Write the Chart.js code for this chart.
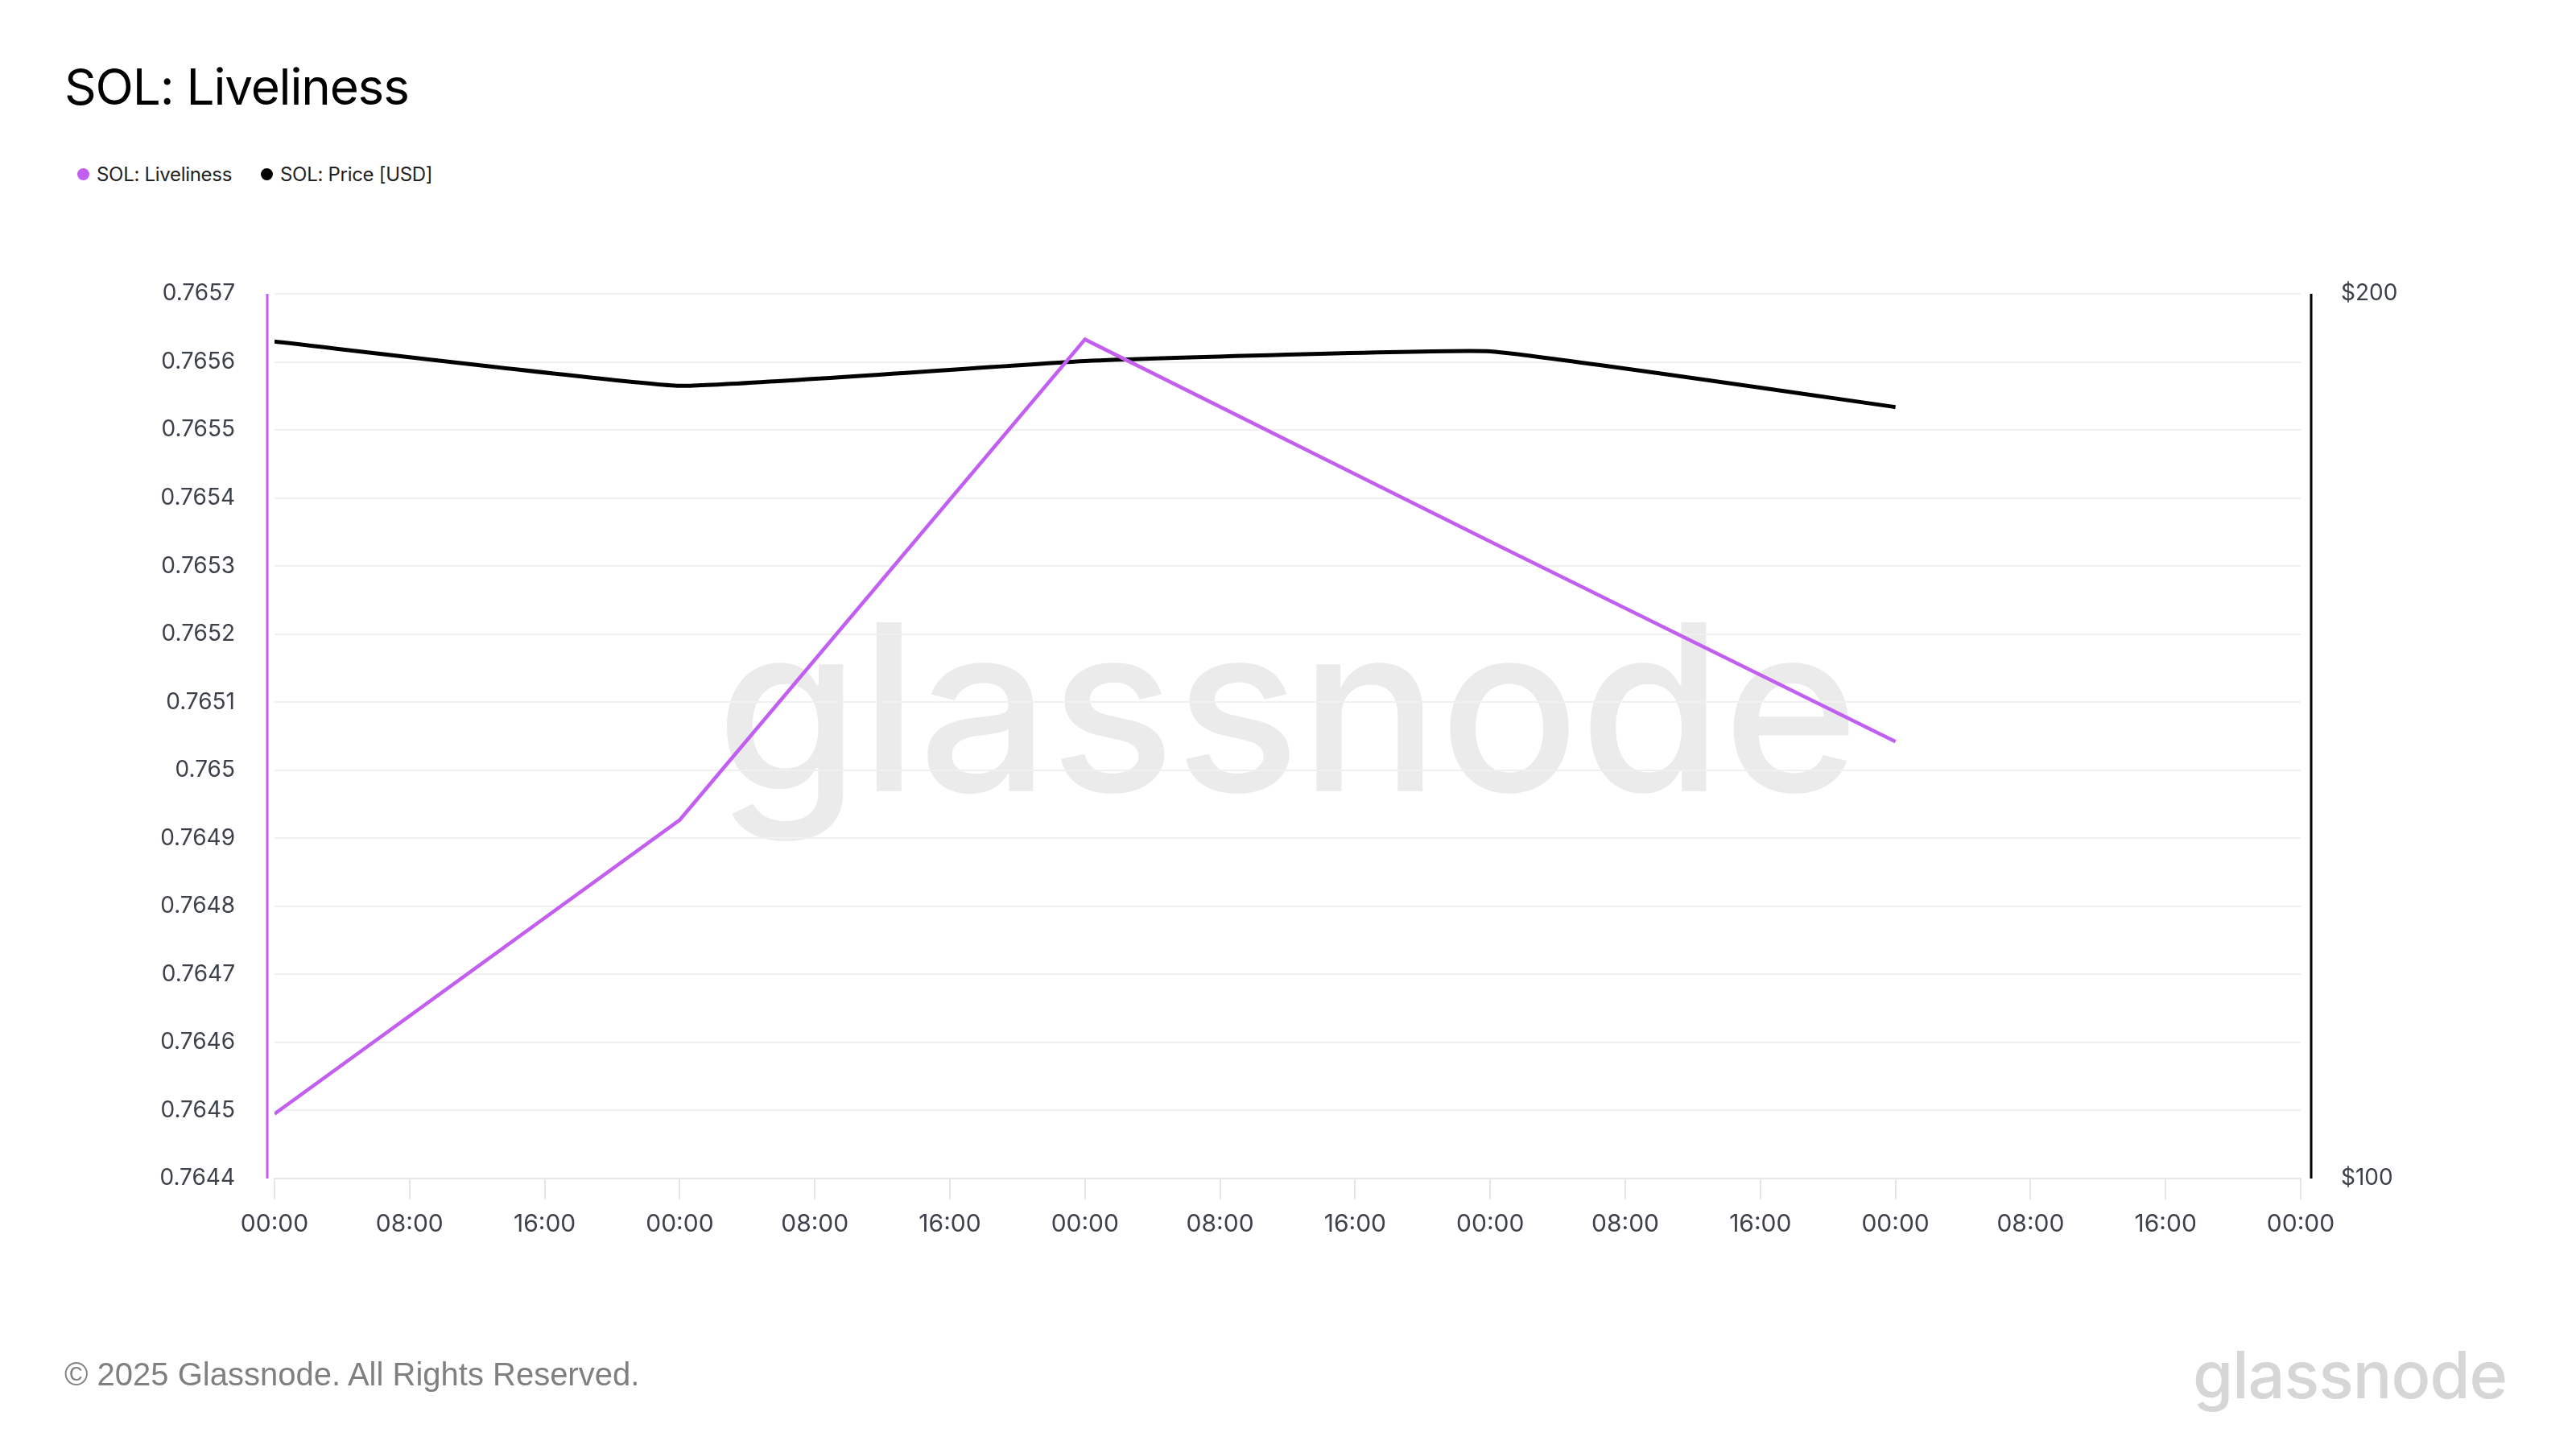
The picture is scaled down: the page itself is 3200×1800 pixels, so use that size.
<!DOCTYPE html>
<html>
<head>
<meta charset="utf-8">
<script src="https://cdn.jsdelivr.net/npm/chart.js@4"></script>
<style>
  html, body { margin: 0; padding: 0; background: #fff; }
  #page { position: relative; width: 3200px; height: 1800px; overflow: hidden; font-family: Inter, sans-serif; }
  #chart { position: absolute; left: 0; top: 0; }
  .title { position: absolute; left: 80px; top: 72px; font-size: 62px; line-height: 72px; color: #000; letter-spacing: -1.2px; }
  .legend { position: absolute; left: 96px; top: 202px; height: 28px; display: flex; align-items: center; font-size: 24px; color: #222; letter-spacing: -0.3px; }
  .legend .item { display: flex; align-items: center; margin-right: 36px; }
  .legend .dot { width: 15px; height: 15px; border-radius: 50%; margin-right: 9px; }
  .footer { position: absolute; left: 80px; top: 1683px; font-family: "Liberation Sans", Arial, sans-serif; font-size: 40px; line-height: 48px; color: #808080; }
  .logo { position: absolute; left: 2724px; top: 1668px; font-size: 81px; line-height: 81px; font-weight: 500; color: #d6d6d6; letter-spacing: -1px; }
</style>
</head>
<body>
<div id="page">
  <div class="title">SOL: Liveliness</div>
  <div class="legend">
    <div class="item"><span class="dot" style="background:#c25ff0"></span>SOL: Liveliness</div>
    <div class="item"><span class="dot" style="background:#000"></span>SOL: Price [USD]</div>
  </div>
  <canvas id="chart" width="3200" height="1800"></canvas>
  <div class="footer">© 2025 Glassnode. All Rights Reserved.</div>
  <div class="logo">glassnode</div>
</div>
<script>
// hours since first day 00:00
const hours = [0, 24, 48, 72, 96];
const liveliness = [0.764495, 0.764927, 0.765633, 0.765336, 0.765042];
const priceUsd = [194.6, 189.6, 192.4, 193.5, 187.2];

const purple = '#c25ff0';
const tickColor = '#3c4049';

Chart.defaults.font.family = 'Inter, sans-serif';

const watermark = {
    id: 'watermark',
    beforeDraw(chart) {
        const { ctx, chartArea } = chart;
        ctx.save();
        let size = 300;
        ctx.font = `500 ${size}px Inter, sans-serif`;
        const w = ctx.measureText('glassnode').width;
        size = size * 1420 / w;
        ctx.font = `500 ${size}px Inter, sans-serif`;
        ctx.fillStyle = '#ebebeb';
        ctx.textAlign = 'center';
        ctx.textBaseline = 'alphabetic';
        const cx = (chartArea.left + chartArea.right) / 2;
        const by = chartArea.top + (chartArea.bottom - chartArea.top) * 0.562;
        ctx.fillText('glassnode', cx, by);
        ctx.restore();
    }
};

const axisLines = {
    id: 'axisLines',
    afterDatasetsDraw(chart) {
        const { ctx, chartArea } = chart;
        ctx.save();
        ctx.lineWidth = 3;
        ctx.strokeStyle = purple;
        ctx.beginPath();
        ctx.moveTo(chartArea.left - 9, chartArea.top);
        ctx.lineTo(chartArea.left - 9, chartArea.bottom);
        ctx.stroke();
        ctx.strokeStyle = '#000';
        ctx.beginPath();
        ctx.moveTo(chartArea.right + 13, chartArea.top);
        ctx.lineTo(chartArea.right + 13, chartArea.bottom);
        ctx.stroke();
        ctx.restore();
    }
};

function hourLabel(v) {
    const h = ((v % 24) + 24) % 24;
    return String(h).padStart(2, '0') + ':00';
}

new Chart(document.getElementById('chart'), {
    type: 'line',
    data: {
        datasets: [{
            label: 'SOL: Liveliness',
            data: hours.map((h, i) => ({ x: h, y: liveliness[i] })),
            borderColor: purple,
            borderWidth: 4.5,
            pointRadius: 0,
            tension: 0,
            yAxisID: 'y'
        }, {
            label: 'SOL: Price [USD]',
            data: hours.map((h, i) => ({ x: h, y: priceUsd[i] })),
            borderColor: '#000',
            borderWidth: 5,
            pointRadius: 0,
            tension: 0.1,
            yAxisID: 'y1'
        }]
    },
    options: {
        responsive: false,
        animation: false,
        devicePixelRatio: 1,
        layout: { padding: { top: 365, bottom: 236, left: 0, right: 0 } },
        plugins: { legend: { display: false }, tooltip: { enabled: false } },
        scales: {
            x: {
                type: 'linear',
                min: 0,
                max: 120,
                afterFit: s => { s.height = 100; },
                afterBuildTicks: s => {
                    const t = [];
                    for (let v = 0; v <= 120; v += 8) t.push({ value: v });
                    s.ticks = t;
                },
                ticks: {
                    callback: hourLabel,
                    color: tickColor,
                    font: { size: 30 },
                    padding: 13,
                    maxRotation: 0,
                    autoSkip: false
                },
                grid: {
                    drawOnChartArea: false,
                    drawTicks: true,
                    tickLength: 26,
                    color: '#e6e6e6',
                    lineWidth: 2
                },
                border: { display: true, color: '#e6e6e6', width: 2 }
            },
            y: {
                position: 'left',
                min: 0.7644,
                max: 0.7657,
                afterFit: s => { s.width = 341; },
                ticks: {
                    stepSize: 0.0001,
                    color: tickColor,
                    font: { size: 28 },
                    padding: 49,
                    callback: v => String(parseFloat(Number(v).toFixed(4)))
                },
                grid: { color: '#f0f0f0', lineWidth: 2, drawTicks: false },
                border: { display: false }
            },
            y1: {
                position: 'right',
                min: 100,
                max: 200,
                afterFit: s => { s.width = 342; },
                ticks: {
                    stepSize: 100,
                    color: tickColor,
                    font: { size: 28 },
                    padding: 50,
                    callback: v => '$' + v
                },
                grid: { display: false, drawTicks: false },
                border: { display: false }
            }
        }
    },
    plugins: [watermark, axisLines]
});
</script>
</body>
</html>
